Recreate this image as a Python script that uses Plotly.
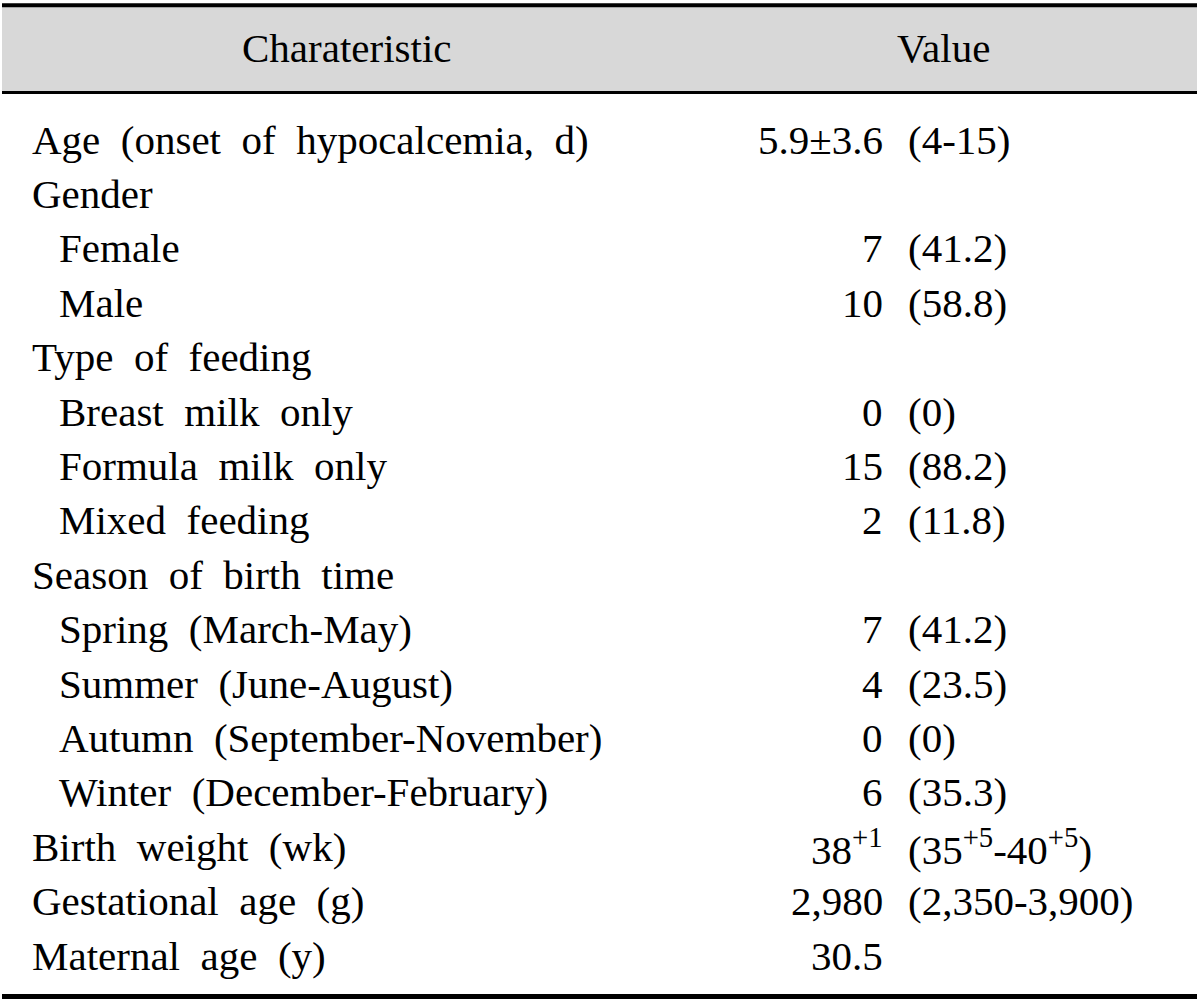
import plotly.graph_objects as go

# ---------------- data ----------------
header = ["Charateristic", "Value"]

characteristics = [
    "Age (onset of hypocalcemia, d)",
    "Gender",
    "Female",
    "Male",
    "Type of feeding",
    "Breast milk only",
    "Formula milk only",
    "Mixed feeding",
    "Season of birth time",
    "Spring (March-May)",
    "Summer (June-August)",
    "Autumn (September-November)",
    "Winter (December-February)",
    "Birth weight (wk)",
    "Gestational age (g)",
    "Maternal age (y)",
]
levels = [0, 0, 1, 1, 0, 1, 1, 1, 0, 1, 1, 1, 1, 0, 0, 0]

value_main = [
    "5.9±3.6", "", "7", "10", "", "0", "15", "2", "",
    "7", "4", "0", "6", "38<sup>+1</sup>", "2,980", "30.5",
]
value_paren = [
    "(4-15)", "", "(41.2)", "(58.8)", "", "(0)", "(88.2)", "(11.8)", "",
    "(41.2)", "(23.5)", "(0)", "(35.3)",
    "(35<sup>+5</sup>-40<sup>+5</sup>)", "(2,350-3,900)", "",
]

# ---------------- layout ----------------
FONT = "Liberation Serif, Times New Roman, serif"
FS = 41
W, H = 1200, 1004
ROW0 = 139.5     # pixel centre of first row
STEP = 54.4      # pixel step between rows


def ry(p):
    return (p - ROW0) / STEP


def wide(s):
    return s.replace(" ", "\u00a0\u00a0")


fig = go.Figure()
fig.add_trace(go.Scatter(x=[0, W], y=[ry(0), ry(H)], mode="markers",
                         marker=dict(opacity=0), hoverinfo="skip", showlegend=False))

# header band and rules
fig.add_shape(type="rect", x0=2, x1=1197, y0=ry(7), y1=ry(91),
              fillcolor="#d8d8d8", line=dict(width=0), layer="below")
fig.add_shape(type="line", x0=2, x1=1197, y0=ry(5.3), y1=ry(5.3),
              line=dict(color="black", width=4))
fig.add_shape(type="line", x0=2, x1=1197, y0=ry(92.5), y1=ry(92.5),
              line=dict(color="black", width=3))
fig.add_shape(type="line", x0=2, x1=1197, y0=ry(996.5), y1=ry(996.5),
              line=dict(color="black", width=5))

font = dict(family=FONT, size=FS, color="black")
fig.add_annotation(x=346, y=ry(48), text=header[0], showarrow=False,
                   xanchor="center", yanchor="middle", font=font)
fig.add_annotation(x=943, y=ry(48), text=header[1], showarrow=False,
                   xanchor="center", yanchor="middle", font=font)

for i, (lab, lvl, vm, vp) in enumerate(zip(characteristics, levels, value_main, value_paren)):
    x_left = 57 if lvl else 30
    fig.add_annotation(x=x_left, y=i, text=wide(lab), showarrow=False,
                       xanchor="left", yanchor="middle", font=font)
    if vm:
        fig.add_annotation(x=885, y=i, text=vm, showarrow=False,
                           xanchor="right", yanchor="middle", font=font)
    if vp:
        fig.add_annotation(x=906, y=i, text=vp, showarrow=False,
                           xanchor="left", yanchor="middle", font=font)

fig.update_xaxes(range=[0, W], visible=False, fixedrange=True)
fig.update_yaxes(range=[ry(H), ry(0)], visible=False, fixedrange=True)
fig.update_layout(width=W, height=H, margin=dict(l=0, r=0, t=0, b=0),
                  plot_bgcolor="white", paper_bgcolor="white", showlegend=False)

fig.write_html("out.html", config={"displayModeBar": False},
               post_script="document.body.style.margin='0';document.body.style.overflow='hidden';")
